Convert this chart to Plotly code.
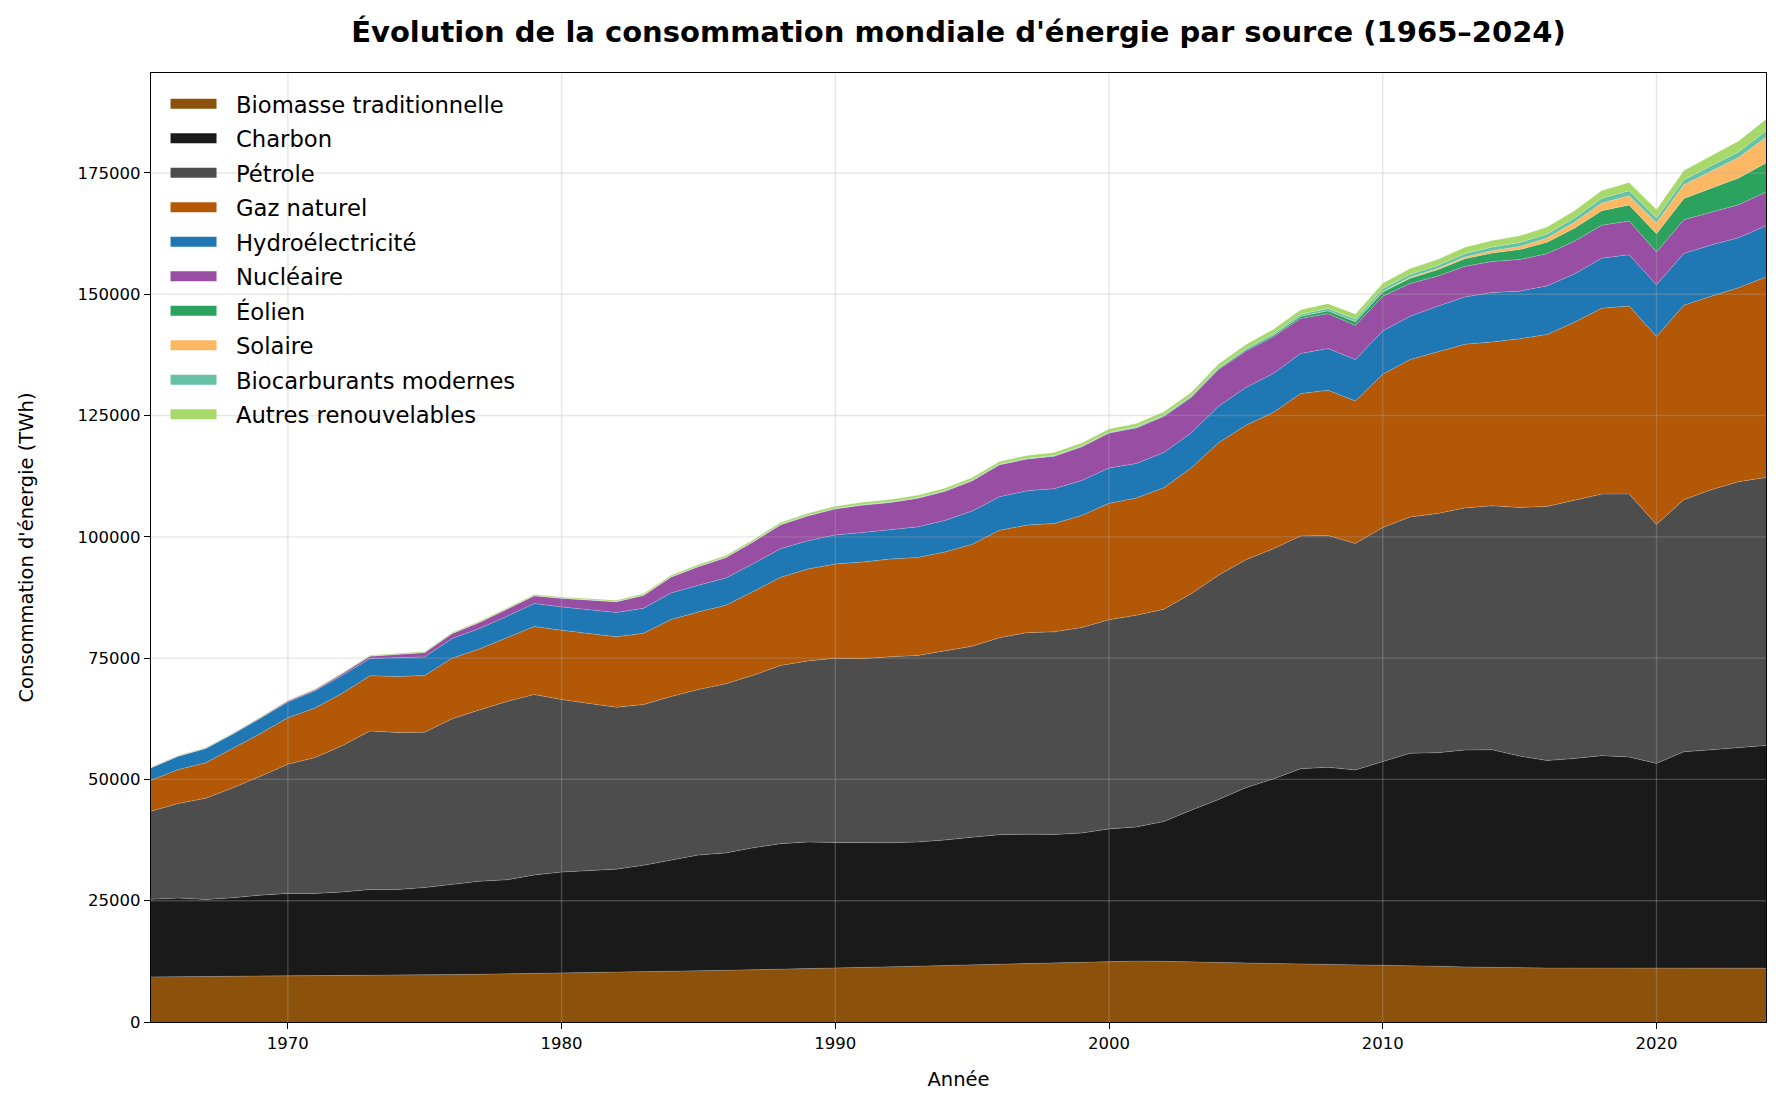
import plotly.graph_objects as go

years = list(range(1965, 2025))

biomasse = [9300, 9330, 9360, 9390, 9420, 9450, 9500, 9550, 9600, 9650,
            9700, 9770, 9840, 9910, 9980, 10050, 10150, 10250, 10350, 10450,
            10550, 10650, 10750, 10850, 10950, 11050, 11200, 11350, 11500, 11650,
            11800, 11950, 12100, 12250, 12400, 12550, 12550, 12500, 12350, 12250,
            12150, 12050, 11980, 11900, 11850, 11800, 11650, 11500, 11350, 11250,
            11150, 11120, 11110, 11110, 11100, 11100, 11100, 11100, 11100, 11100]
charbon = [16000, 16220, 15890, 16210, 16730, 17050, 17000, 17250, 17700, 17650,
           18000, 18630, 19160, 19390, 20320, 20850, 21000, 21250, 21950, 22850,
           23850, 24200, 25150, 25900, 26150, 25950, 25700, 25600, 25600, 25850,
           26300, 26650, 26600, 26400, 26550, 27250, 27650, 28800, 31300, 33600,
           36150, 38050, 40220, 40600, 40100, 41900, 43750, 44000, 44700, 44850,
           43650, 42780, 43190, 43790, 43500, 42200, 44600, 45000, 45500, 45900]
petrole = [18150, 19480, 20880, 22660, 24510, 26630, 28010, 30180, 32700, 32360,
           32030, 34080, 35330, 36750, 37190, 35560, 34490, 33380, 33130, 33780,
           34120, 34850, 35550, 36750, 37320, 37950, 37980, 38330, 38420, 38980,
           39350, 40610, 41550, 41760, 42340, 43100, 43660, 43760, 44620, 46250,
           46980, 47430, 47990, 47750, 46660, 48210, 48710, 49300, 49910, 50280,
           51250, 52350, 53200, 53910, 54210, 49250, 51960, 53590, 54770, 55240]
gaz = [6380, 7000, 7280, 8100, 8790, 9590, 10230, 10820, 11370, 11540,
       11670, 12500, 12570, 13150, 14020, 14290, 14420, 14500, 14700, 15870,
       16010, 16180, 17270, 18150, 18940, 19470, 19920, 20140, 20210, 20380,
       21000, 22130, 22170, 22340, 23120, 24000, 24140, 25040, 25930, 27300,
       27700, 28100, 29340, 29960, 29400, 31600, 32420, 33320, 33730, 33790,
       34770, 35460, 36710, 38310, 38750, 38760, 40080, 39900, 39980, 41310]
hydro = [2540, 2750, 2950, 3000, 3150, 3260, 3510, 3670, 3540, 3850,
         3850, 4050, 4200, 4400, 4730, 4810, 4950, 5010, 5160, 5490,
         5490, 5620, 5740, 5890, 5840, 5960, 6100, 6070, 6320, 6520,
         6850, 6920, 7060, 7170, 7190, 7280, 7100, 7300, 7200, 7500,
         7800, 8040, 8240, 8590, 8520, 8930, 8930, 9400, 9760, 10170,
         9820, 10010, 9960, 10310, 10570, 10650, 10660, 10570, 10310, 10570]
nucleaire = [70, 90, 110, 140, 180, 230, 300, 400, 520, 680,
             920, 1060, 1280, 1500, 1620, 1800, 1950, 2240, 2680, 3280,
             3860, 4240, 4500, 4960, 5140, 5400, 5650, 5600, 5900, 6000,
             6250, 6600, 6550, 6700, 6950, 7200, 7350, 7400, 7300, 7550,
             7500, 7550, 7250, 7200, 7050, 7150, 6750, 6200, 6300, 6400,
             6500, 6650, 6750, 6800, 6950, 6750, 6950, 6750, 6800, 6950]
eolien = [0, 0, 0, 0, 0, 0, 0, 0, 0, 0,
          0, 0, 0, 0, 0, 0, 0, 0, 0, 0,
          2, 3, 5, 7, 9, 10, 12, 14, 18, 22,
          25, 30, 40, 55, 70, 85, 110, 140, 175, 220,
          280, 350, 450, 580, 730, 890, 1110, 1320, 1580, 1760,
          2060, 2320, 2700, 2990, 3300, 3750, 4400, 5000, 5500, 6000]
solaire = [0, 0, 0, 0, 0, 0, 0, 0, 0, 0,
           0, 0, 0, 0, 0, 0, 0, 0, 0, 0,
           1, 1, 1, 1, 1, 1, 1, 1, 1, 1,
           1, 1, 1, 2, 2, 3, 4, 5, 6, 8,
           11, 15, 20, 32, 52, 90, 180, 260, 360, 480,
           640, 880, 1200, 1560, 1900, 2250, 2800, 3400, 4200, 5300]
biocarburants = [0, 0, 0, 0, 0, 0, 0, 0, 0, 0,
                 0, 3, 6, 10, 18, 28, 35, 45, 55, 65,
                 70, 68, 72, 70, 70, 72, 75, 78, 80, 85,
                 90, 95, 100, 100, 100, 110, 120, 140, 160, 190,
                 230, 300, 380, 470, 520, 600, 610, 620, 680, 760,
                 800, 830, 880, 980, 1050, 980, 1050, 1120, 1200, 1250]
autres = [100, 105, 110, 115, 122, 130, 138, 145, 152, 160,
          170, 178, 188, 200, 215, 230, 250, 265, 280, 305,
          330, 350, 375, 400, 420, 450, 470, 485, 500, 520,
          540, 565, 585, 600, 625, 650, 660, 690, 720, 770,
          820, 870, 920, 980, 1030, 1100, 1170, 1240, 1300, 1360,
          1410, 1450, 1520, 1600, 1700, 1800, 1900, 2050, 2250, 2450]

names = ["Biomasse traditionnelle", "Charbon", "Pétrole", "Gaz naturel",
         "Hydroélectricité", "Nucléaire", "Éolien", "Solaire",
         "Biocarburants modernes", "Autres renouvelables"]
series = [biomasse, charbon, petrole, gaz, hydro, nucleaire, eolien,
          solaire, biocarburants, autres]
colors = ["#8c510a", "#1a1a1a", "#4d4d4d", "#b35806", "#1f77b4",
          "#984ea3", "#2ca25f", "#fdb863", "#66c2a5", "#a6d96a"]

x_ticks = [1970, 1980, 1990, 2000, 2010, 2020]
y_ticks = [0, 25000, 50000, 75000, 100000, 125000, 150000, 175000]

FONT = "DejaVu Sans"

fig = go.Figure()
for name, vals, col in zip(names, series, colors):
    fig.add_trace(go.Scatter(
        x=years, y=vals, name=name, stackgroup="one", mode="lines",
        line=dict(width=0.6, color="rgba(255,255,255,0.35)"),
        fillcolor=col, legendgroup=name, showlegend=False,
        hoverinfo="x+y+name"))
for name, col in zip(names, colors):
    fig.add_trace(go.Scatter(
        x=[None], y=[None], name="\u00a0\u00a0" + name, mode="lines",
        line=dict(width=10, color=col), legendgroup=name, showlegend=True))

grid_col = "rgba(176,176,176,0.3)"
shapes = []
for xv in x_ticks:
    shapes.append(dict(type="line", xref="x", yref="paper", x0=xv, x1=xv,
                       y0=0, y1=1, layer="above",
                       line=dict(color=grid_col, width=1.4)))
for yv in y_ticks[1:]:
    shapes.append(dict(type="line", xref="paper", yref="y", x0=0, x1=1,
                       y0=yv, y1=yv, layer="above",
                       line=dict(color=grid_col, width=1.4)))

fig.update_layout(
    width=1783, height=1107,
    margin=dict(l=151, r=17, t=73, b=85),
    paper_bgcolor="white", plot_bgcolor="white",
    font=dict(family=FONT, color="black"),
    title=dict(
        text="<b>Évolution de la consommation mondiale d'énergie par source (1965–2024)</b>",
        x=0.5, xref="paper", xanchor="center",
        y=1 - 31.5 / 1107, yref="container", yanchor="middle",
        font=dict(family=FONT, size=29, color="black")),
    shapes=shapes,
    legend=dict(
        x=0.009, y=0.99, xanchor="left", yanchor="top",
        bgcolor="rgba(0,0,0,0)", borderwidth=0,
        font=dict(family=FONT, size=22.7, color="black"),
        traceorder="grouped", tracegroupgap=2, itemwidth=46),
    showlegend=True,
)
fig.update_xaxes(
    range=[1965, 2024], tickvals=x_ticks, ticks="outside", ticklen=6,
    tickwidth=1.4, tickcolor="black", showline=True, mirror=True,
    linecolor="black", linewidth=1.4, showgrid=False, zeroline=False,
    layer="above traces", tickfont=dict(family=FONT, size=16.5, color="black"),
    title=dict(text="Année", font=dict(family=FONT, size=19.5, color="black"),
               standoff=20))
fig.update_yaxes(
    range=[0, 195600], tickvals=y_ticks, tickformat="d", ticks="outside",
    ticklen=6, tickwidth=1.4, tickcolor="black", showline=True, mirror=True,
    linecolor="black", linewidth=1.4, showgrid=False, zeroline=False,
    layer="above traces", tickfont=dict(family=FONT, size=16.5, color="black"),
    title=dict(text="Consommation d'énergie (TWh)",
               font=dict(family=FONT, size=19.5, color="black"), standoff=38))

fig.write_html("out.html", config={"displayModeBar": False},
               post_script="document.body.style.margin='0';")
